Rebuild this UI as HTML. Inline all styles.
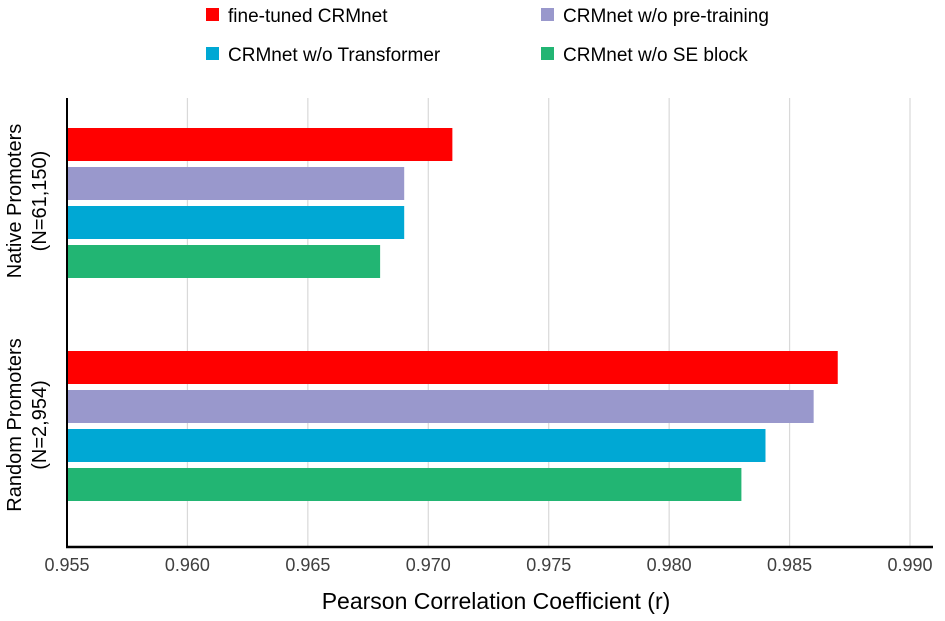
<!DOCTYPE html>
<html><head><meta charset="utf-8"><style>
body{margin:0;background:#fff;}
svg text{font-family:"Liberation Sans",sans-serif;}
</style></head><body>
<svg id="chart" width="945" height="616" viewBox="0 0 945 616" xmlns="http://www.w3.org/2000/svg">
<g id="grid"></g>
<g id="bars"></g>
<line x1="67" y1="98" x2="67" y2="547" stroke="#000" stroke-width="2"/>
<line x1="66" y1="547" x2="933" y2="547" stroke="#000" stroke-width="2.5"/>
<g id="ticks"></g>
<text x="496" y="609" font-size="23" text-anchor="middle" fill="#000">Pearson Correlation Coefficient (r)</text>
<g>
<text transform="translate(21,201) rotate(-90)" font-size="20" text-anchor="middle" fill="#000">Native Promoters</text>
<text transform="translate(46,201) rotate(-90)" font-size="20" text-anchor="middle" fill="#000">(N=61,150)</text>
</g>
<g>
<text transform="translate(21,425) rotate(-90)" font-size="20" text-anchor="middle" fill="#000">Random Promoters</text>
<text transform="translate(46,425) rotate(-90)" font-size="20" text-anchor="middle" fill="#000">(N=2,954)</text>
</g>
<g id="legend"></g>
</svg>
<script>
const categories = ["Native Promoters", "Random Promoters"];
const seriesNames = ["fine-tuned CRMnet", "CRMnet w/o pre-training", "CRMnet w/o Transformer", "CRMnet w/o SE block"];
const seriesColors = ["#ff0000", "#9998cc", "#00a8d4", "#22b573"];
const fineTuned = [0.971, 0.987];
const noPretrain = [0.969, 0.986];
const noTransformer = [0.969, 0.984];
const noSE = [0.968, 0.983];
const tickValues = [0.955, 0.960, 0.965, 0.970, 0.975, 0.980, 0.985, 0.990];
const tickLabels = ["0.955", "0.960", "0.965", "0.970", "0.975", "0.980", "0.985", "0.990"];

const NS = "http://www.w3.org/2000/svg";
const x0 = 67, x1 = 910, vmin = 0.955, vmax = 0.990;
function xScale(v){ return x0 + (v - vmin) / (vmax - vmin) * (x1 - x0); }
const groupTop = [128, 351];
const barH = 33, barStep = 39;
function yScale(ci, si){ return groupTop[ci] + si * barStep; }

const grid = document.getElementById('grid');
const ticks = document.getElementById('ticks');
tickValues.forEach((v, i) => {
  const x = xScale(v);
  if (i > 0) {
    const l = document.createElementNS(NS, 'line');
    l.setAttribute('x1', x); l.setAttribute('x2', x);
    l.setAttribute('y1', 98); l.setAttribute('y2', 547);
    l.setAttribute('stroke', '#d9d9d9'); l.setAttribute('stroke-width', '1.2');
    
    
    grid.appendChild(l);
  }
  const t = document.createElementNS(NS, 'text');
  t.setAttribute('x', x); t.setAttribute('y', 571);
  t.setAttribute('font-size', '18'); t.setAttribute('text-anchor', 'middle');
  t.setAttribute('fill', '#404040');
  t.textContent = tickLabels[i];
  
  
  ticks.appendChild(t);
});

const series = [fineTuned, noPretrain, noTransformer, noSE];
const bars = document.getElementById('bars');
categories.forEach((c, ci) => {
  series.forEach((s, si) => {
    const r = document.createElementNS(NS, 'rect');
    r.setAttribute('x', x0);
    r.setAttribute('y', yScale(ci, si));
    r.setAttribute('width', xScale(s[ci]) - x0);
    r.setAttribute('height', barH);
    r.setAttribute('fill', seriesColors[si]);
    
    
    bars.appendChild(r);
  });
});

const legend = document.getElementById('legend');
const legPos = [[206, 8], [541, 8], [206, 47], [541, 47]];
seriesNames.forEach((n, i) => {
  const g = document.createElementNS(NS, 'g');
  
  
  const r = document.createElementNS(NS, 'rect');
  r.setAttribute('x', legPos[i][0]); r.setAttribute('y', legPos[i][1]);
  r.setAttribute('width', 13); r.setAttribute('height', 13);
  r.setAttribute('fill', seriesColors[i]);
  g.appendChild(r);
  const t = document.createElementNS(NS, 'text');
  t.setAttribute('x', legPos[i][0] + 22); t.setAttribute('y', legPos[i][1] + 14);
  t.setAttribute('font-size', '19'); t.setAttribute('fill', '#000');
  t.textContent = n;
  g.appendChild(t);
  legend.appendChild(g);
});
</script>
</body></html>
